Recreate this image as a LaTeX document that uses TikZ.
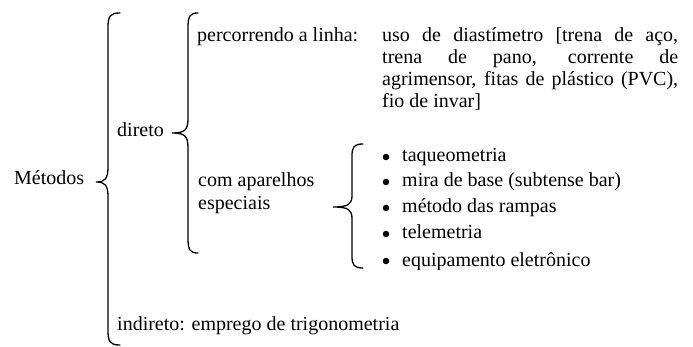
\documentclass[tikz,border=0pt]{standalone}
\usepackage{fontspec}
\setmainfont{Liberation Serif}
\begin{document}
\begin{tikzpicture}[x=1pt,y=-1pt,
  lbl/.style={anchor=base west, inner sep=0pt, font=\fontsize{20}{22}\selectfont},
  bracepen/.style={line width=1.3pt, line cap=round},
  dot/.style={circle, fill=black, inner sep=0pt, minimum size=6.5pt}]
\useasboundingbox (0,0) rectangle (693,347);
\hyphenpenalty=10000
% brace macro: xend, xv, xtip, ytop, ymid, ybot, curl
\newcommand\mybrace[7]{%
  \draw[bracepen] (#1,#4) .. controls (#2+2,#4) and (#2,#4+3) .. (#2,#4+#7)
    -- (#2,#5-#7) .. controls (#2,#5-3) and (#2-3,#5) .. (#3,#5)
    .. controls (#2-3,#5) and (#2,#5+3) .. (#2,#5+#7)
    -- (#2,#6-#7) .. controls (#2,#6-3) and (#2+2,#6) .. (#1,#6);}
% labels
\node[lbl] (met) at (14,185) {Métodos};
\node[lbl] (dir) at (117,137) {direto};
\node[lbl] (perc) at (197,42) {percorrendo a linha:};
\node[lbl, text width=296pt, align=justify] (uso) at (382,42)
  {uso de diastímetro [trena de aço,\linebreak trena de pano, corrente de\linebreak agrimensor, fitas de plástico (PVC),\linebreak fio de invar]};
\node[lbl, align=left, font=\fontsize{20}{23}\selectfont] (com) at (198,210) {com aparelhos\\especiais};
\node[lbl] (ind) at (117,330) {indireto: emprego de trigonometria};
% braces
\mybrace{120}{108}{96}{13}{182}{345}{15}
\mybrace{198}{188}{172}{13}{133}{253}{15}
\mybrace{363}{352}{333}{144}{207}{268}{12}
% list
\begin{scope}
\clip (0,0) rectangle (693,270);
\node[dot] (b1) at (386,157) {};
\node[dot] (b2) at (386,182) {};
\node[dot] (b3) at (386,208) {};
\node[dot] (b4) at (386,234) {};
\node[dot] (b5) at (386,261) {};
\node[lbl] (i1) at (402,162) {taqueometria};
\node[lbl] (i2) at (402,187) {mira de base (subtense bar)};
\node[lbl] (i3) at (402,213) {método das rampas};
\node[lbl] (i4) at (402,239) {telemetria};
\node[lbl] (i5) at (402,266) {equipamento eletrônico};
\end{scope}
\end{tikzpicture}
\end{document}
